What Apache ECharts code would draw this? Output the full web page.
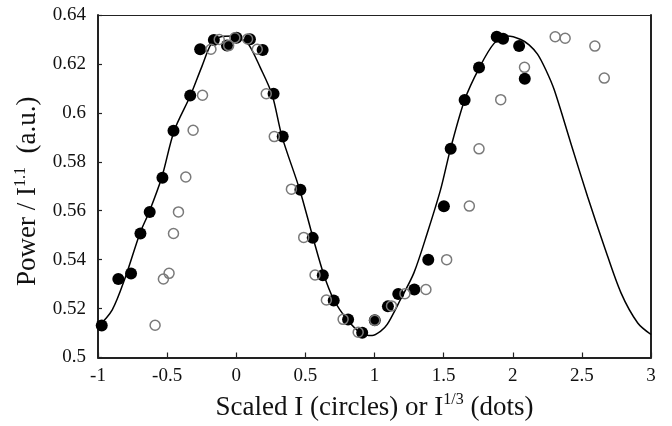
<!DOCTYPE html>
<html>
<head>
<meta charset="utf-8">
<script src="https://cdn.jsdelivr.net/npm/echarts@6/dist/echarts.min.js"></script>
<style>
  html, body { margin: 0; padding: 0; background: #fff; }
  #chart { width: 672px; height: 426px; }
</style>
</head>
<body>
<div id="chart"></div>
<script>
// filled dots: I^(1/3)
var dotX = [-0.973, -0.853, -0.761, -0.693, -0.626, -0.534, -0.454, -0.333, -0.261, -0.162, -0.067, 0.002, 0.099, 0.191, 0.270, 0.336, 0.464, 0.553, 0.626, 0.705, 0.809, 0.911, 1.002, 1.097, 1.172, 1.288, 1.389, 1.502, 1.551, 1.652, 1.756, 1.884, 1.930, 2.046, 2.087];
var dotY = [0.5131, 0.5321, 0.5343, 0.5507, 0.5595, 0.5735, 0.5927, 0.6071, 0.6260, 0.6298, 0.6275, 0.6307, 0.6301, 0.6257, 0.6078, 0.5903, 0.5686, 0.5489, 0.5336, 0.5233, 0.5155, 0.5101, 0.5152, 0.5209, 0.5260, 0.5278, 0.5400, 0.5618, 0.5853, 0.6053, 0.6185, 0.6311, 0.6303, 0.6273, 0.6139];

// open circles: scaled I
var circX = [-0.587, -0.527, -0.486, -0.454, -0.418, -0.365, -0.312, -0.244, -0.183, -0.123, -0.055, -0.010, 0.082, 0.152, 0.217, 0.275, 0.399, 0.488, 0.570, 0.652, 0.773, 0.882, 1.002, 1.123, 1.220, 1.372, 1.522, 1.686, 1.756, 1.913, 2.085, 2.307, 2.379, 2.594, 2.662];
var circY = [0.5132, 0.5321, 0.5344, 0.5507, 0.5595, 0.5738, 0.5929, 0.6072, 0.6260, 0.6300, 0.6275, 0.6307, 0.6302, 0.6260, 0.6078, 0.5903, 0.5688, 0.5491, 0.5337, 0.5235, 0.5156, 0.5103, 0.5152, 0.5211, 0.5261, 0.5278, 0.5400, 0.5619, 0.5853, 0.6054, 0.6186, 0.6311, 0.6305, 0.6273, 0.6142];

// solid curve
var curveX = [-1.0, -0.897, -0.804, -0.696, -0.630, -0.539, -0.449, -0.333, -0.249, -0.176, -0.104, -0.007, 0.029, 0.089, 0.174, 0.259, 0.331, 0.459, 0.556, 0.633, 0.705, 0.802, 0.899, 0.983, 1.043, 1.092, 1.188, 1.285, 1.382, 1.478, 1.551, 1.652, 1.756, 1.865, 1.962, 2.058, 2.118, 2.179, 2.239, 2.300, 2.420, 2.541, 2.662, 2.783, 2.904, 3.0];
var curveY = [0.5125, 0.5195, 0.5325, 0.5509, 0.5595, 0.5736, 0.5927, 0.6069, 0.6189, 0.6287, 0.6312, 0.6314, 0.6305, 0.6280, 0.6185, 0.6075, 0.5903, 0.5686, 0.5488, 0.5339, 0.5237, 0.5155, 0.5101, 0.5090, 0.5107, 0.5135, 0.5237, 0.5346, 0.5509, 0.5686, 0.5856, 0.6053, 0.6182, 0.6284, 0.6314, 0.6300, 0.6278, 0.6240, 0.6176, 0.6094, 0.5876, 0.5658, 0.5454, 0.5264, 0.5141, 0.5094];

function pairs(xs, ys) {
  var out = [];
  for (var i = 0; i < xs.length; i++) out.push([xs[i], ys[i]]);
  return out;
}

var serif = '"Liberation Serif", "DejaVu Serif", serif';
var axisColor = '#222';

var titleRich = {
  n: { fontFamily: serif, fontSize: 27, color: '#111', lineHeight: 32 },
  s: { fontFamily: serif, fontSize: 16, color: '#111', lineHeight: 16, verticalAlign: 'top' }
};

var chart = echarts.init(document.getElementById('chart'));

var option = {
  backgroundColor: '#fff',
  animation: false,
  grid: { left: 98, right: 21, top: 15, bottom: 68 },
  xAxis: [{
    type: 'value',
    min: -1,
    max: 3,
    interval: 0.5,
    position: 'bottom',
    axisLine: { show: true, onZero: false, lineStyle: { color: axisColor, width: 2 } },
    axisTick: { show: true, inside: true, length: 5, lineStyle: { color: axisColor, width: 1.2 } },
    axisLabel: { margin: 9, color: '#111', fontFamily: serif, fontSize: 19 },
    splitLine: { show: false },
    name: '{n|Scaled I (circles) or I}{s|1/3}{n| (dots)}',
    nameLocation: 'middle',
    nameGap: 34,
    nameTextStyle: { rich: titleRich }
  }, {
    type: 'value',
    min: -1,
    max: 3,
    position: 'top',
    axisLine: { show: true, onZero: false, lineStyle: { color: axisColor, width: 1.2 } },
    axisTick: { show: false },
    axisLabel: { show: false },
    splitLine: { show: false }
  }],
  yAxis: [{
    type: 'value',
    min: 0.5,
    max: 0.64,
    interval: 0.02,
    position: 'left',
    axisLine: { show: true, onZero: false, lineStyle: { color: axisColor, width: 2 } },
    axisTick: { show: true, inside: true, length: 4, lineStyle: { color: axisColor, width: 1.2 } },
    axisLabel: { margin: 12, color: '#111', fontFamily: serif, fontSize: 19 },
    splitLine: { show: false },
    name: '{n|Power / I}{s|1.1}{n|  (a.u.)}',
    nameLocation: 'middle',
    nameGap: 47,
    nameTextStyle: { rich: titleRich, padding: [0, 10, 0, 0] }
  }, {
    type: 'value',
    min: 0.5,
    max: 0.64,
    position: 'right',
    axisLine: { show: true, onZero: false, lineStyle: { color: axisColor, width: 2 } },
    axisTick: { show: false },
    axisLabel: { show: false },
    splitLine: { show: false }
  }],
  series: [{
    type: 'line',
    data: pairs(curveX, curveY),
    smooth: 0.3,
    showSymbol: false,
    lineStyle: { color: '#000', width: 1.5 },
    z: 2
  }, {
    type: 'scatter',
    data: pairs(dotX, dotY),
    symbol: 'circle',
    symbolSize: 12,
    itemStyle: { color: '#000', opacity: 1 },
    z: 3
  }, {
    type: 'scatter',
    data: pairs(circX, circY),
    symbol: 'circle',
    symbolSize: 10,
    itemStyle: { color: 'rgba(255,255,255,0)', borderColor: '#7a7a7a', borderWidth: 1.5, opacity: 1 },
    z: 4
  }]
};

chart.setOption(option);
</script>
</body>
</html>
